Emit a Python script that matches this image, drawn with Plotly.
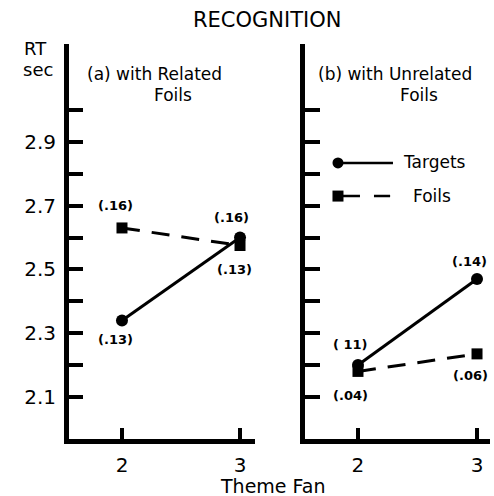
import plotly.graph_objects as go

W, H = 494, 496

fan = [2, 3]
targets_related = [2.34, 2.60]
foils_related = [2.63, 2.575]
targets_unrelated = [2.20, 2.47]
foils_unrelated = [2.18, 2.235]

labels_related_targets = ["(.13)", "(.16)"]
labels_related_foils = ["(.16)", "(.13)"]
labels_unrelated_targets = ["( 11)", "(.14)"]
labels_unrelated_foils = ["(.04)", "(.06)"]

y_tickvals = [2.1, 2.2, 2.3, 2.4, 2.5, 2.6, 2.7, 2.8, 2.9, 3.0]
y_ticktext = ["2.1", "", "2.3", "", "2.5", "", "2.7", "", "2.9", ""]
x_tickvals = [2, 3]
x_ticktext = ["2", "3"]

FONT = "DejaVu Sans, Liberation Sans, Arial, sans-serif"

fig = go.Figure()

def add_pair(xa, ya, tgt, foil):
    fig.add_trace(go.Scatter(x=fan, y=foil, mode="lines+markers", xaxis=xa, yaxis=ya,
                             line=dict(color="black", width=3, dash="18px,12px"),
                             marker=dict(symbol="square", size=11, color="black"),
                             showlegend=False, hoverinfo="skip"))
    fig.add_trace(go.Scatter(x=fan, y=tgt, mode="lines+markers", xaxis=xa, yaxis=ya,
                             line=dict(color="black", width=3),
                             marker=dict(symbol="circle", size=12, color="black"),
                             showlegend=False, hoverinfo="skip"))

add_pair("x", "y", targets_related, foils_related)
add_pair("x2", "y2", targets_unrelated, foils_unrelated)

# legend (manual) in right panel
fig.add_trace(go.Scatter(x=[1.832, 2.294], y=[2.834, 2.834], mode="lines", xaxis="x2", yaxis="y2",
                         line=dict(color="black", width=2.5), showlegend=False, hoverinfo="skip"))
fig.add_trace(go.Scatter(x=[1.832], y=[2.834], mode="markers", xaxis="x2", yaxis="y2",
                         marker=dict(symbol="circle", size=11, color="black"),
                         showlegend=False, hoverinfo="skip"))
fig.add_trace(go.Scatter(x=[1.832, 2.27], y=[2.73, 2.73], mode="lines", xaxis="x2", yaxis="y2",
                         line=dict(color="black", width=2.5, dash="22px,14px"), showlegend=False, hoverinfo="skip"))
fig.add_trace(go.Scatter(x=[1.832], y=[2.73], mode="markers", xaxis="x2", yaxis="y2",
                         marker=dict(symbol="square", size=11, color="black"),
                         showlegend=False, hoverinfo="skip"))

yr = [1.968, 3.207]
axis_common = dict(showline=True, linecolor="black", linewidth=5, ticks="inside",
                   tickcolor="black", tickwidth=4, showgrid=False, zeroline=False,
                   tickfont=dict(family=FONT, size=20, color="black"), fixedrange=True)

fig.update_layout(
    width=W, height=H, margin=dict(l=0, r=0, t=0, b=0),
    paper_bgcolor="white", plot_bgcolor="white",
    xaxis=dict(domain=[69/W, 255/W], range=[1.551, 3.127], anchor="y",
               tickvals=x_tickvals, ticktext=x_ticktext, ticklen=11,
               ticklabelstandoff=4, **axis_common),
    yaxis=dict(domain=[1-439/H, 1-44/H], range=yr, anchor="x",
               tickvals=y_tickvals, ticktext=y_ticktext, ticklen=14,
               ticklabelstandoff=4, **axis_common),
    xaxis2=dict(domain=[305/W, 490/W], range=[1.555, 3.109], anchor="y2",
                tickvals=x_tickvals, ticktext=x_ticktext, ticklen=11,
                ticklabelstandoff=4, **axis_common),
    yaxis2=dict(domain=[1-439/H, 1-44/H], range=yr, anchor="x2",
                tickvals=y_tickvals, ticktext=[""]*len(y_tickvals), ticklen=15,
                **axis_common),
)

def ann(text, px, py, size=14, xanchor="center"):
    fig.add_annotation(text=text, x=px/W, y=1-py/H, xref="paper", yref="paper",
                       showarrow=False, xanchor=xanchor, yanchor="middle",
                       font=dict(family=FONT, size=size, color="black"))

ann("RECOGNITION", 267, 20, size=21)
ann("RT", 35, 48, size=18)
ann("sec", 38, 69, size=18)
ann("(a) with Related", 154, 74, size=17)
ann("Foils", 173, 95, size=17)
ann("(b) with Unrelated", 395, 74, size=17)
ann("Foils", 419, 95, size=17)
ann("Theme Fan", 272, 486, size=19)
ann("Targets", 401, 162, size=17, xanchor="left")
ann("Foils", 411, 196, size=17, xanchor="left")

ann("<b>" + labels_related_foils[0] + "</b>", 115, 206, size=13)
ann("<b>" + labels_related_targets[1] + "</b>", 231, 218, size=13)
ann("<b>" + labels_related_foils[1] + "</b>", 234, 269, size=13)
ann("<b>" + labels_related_targets[0] + "</b>", 115, 339, size=13)
ann("<b>" + labels_unrelated_targets[1] + "</b>", 469, 261, size=13)
ann("<b>" + labels_unrelated_targets[0] + "</b>", 350, 344, size=13)
ann("<b>" + labels_unrelated_foils[0] + "</b>", 350, 395, size=13)
ann("<b>" + labels_unrelated_foils[1] + "</b>", 470, 375, size=13)

fig.write_html("out.html")
